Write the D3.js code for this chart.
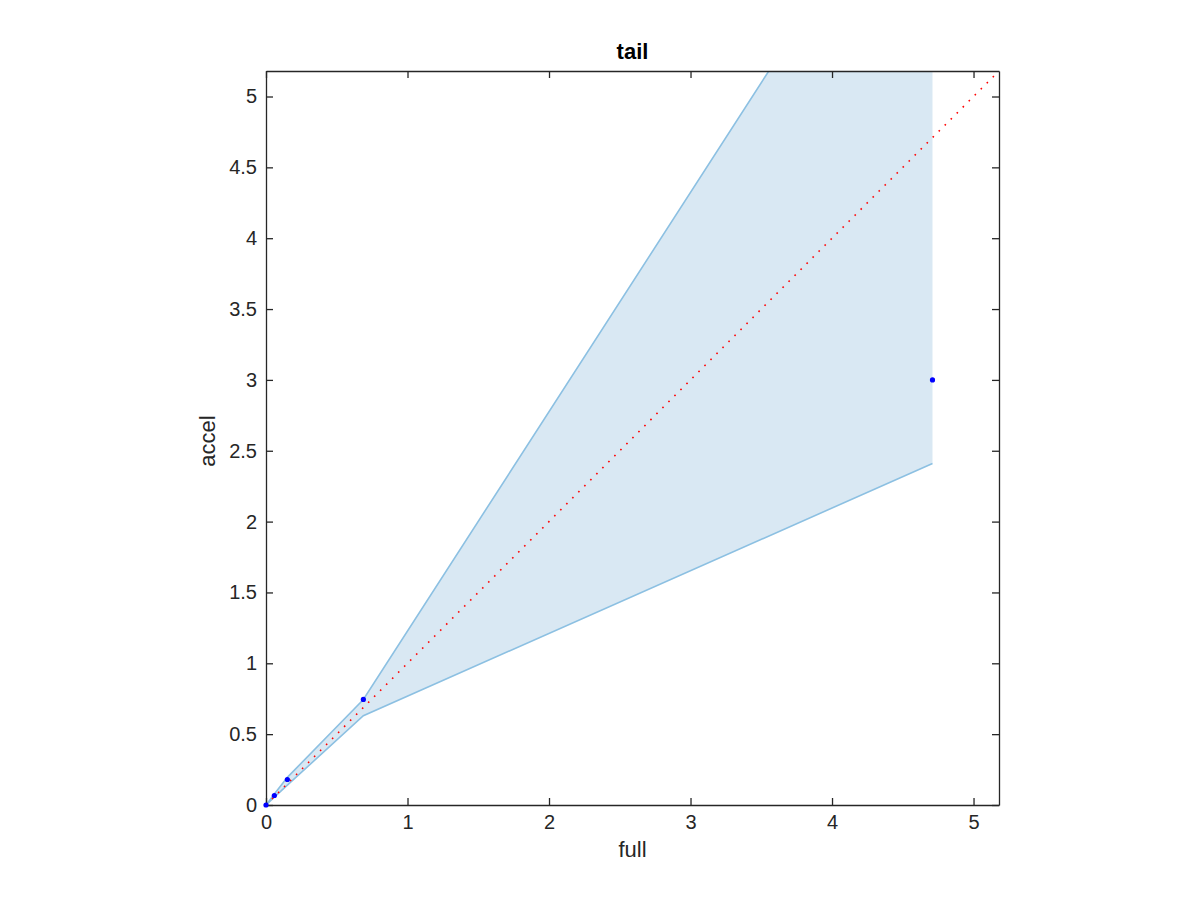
<!DOCTYPE html>
<html>
<head>
<meta charset="utf-8">
<script src="https://cdn.jsdelivr.net/npm/d3@7"></script>
<style>
body { margin: 0; background: #fff; }
svg { display: block; font-family: "Liberation Sans", Arial, Helvetica, sans-serif; }
</style>
</head>
<body>
<svg id="chart" width="1200" height="900"></svg>
<script>
// Data
const pointsX = [0, 0.059, 0.151, 0.688, 4.71];
const pointsY = [0, 0.067, 0.18, 0.745, 3.0];
const bandX = [0, 0.059, 0.151, 0.688, 4.71];
const bandUpper = [0, 0.078, 0.195, 0.745, 6.97];
const bandLower = [0, 0.055, 0.14, 0.63, 2.41];
const xTicks = [0, 1, 2, 3, 4, 5];
const yTicks = [0, 0.5, 1, 1.5, 2, 2.5, 3, 3.5, 4, 4.5, 5];
const axisMax = 5.18;
const titleText = "tail";
const xLabelText = "full";
const yLabelText = "accel";

(function () {
const svg = d3.select("#chart");
const mLeft = 266, mRight = 999, mTop = 71, mBottom = 805;
const x = d3.scaleLinear().domain([0, axisMax]).range([mLeft, mRight]);
const y = d3.scaleLinear().domain([0, axisMax]).range([mBottom, mTop]);

svg.append("defs").append("clipPath").attr("id", "clip")
  .append("rect").attr("x", mLeft).attr("y", mTop).attr("width", mRight - mLeft).attr("height", mBottom - mTop);

const plot = svg.append("g").attr("clip-path", "url(#clip)");

const bandData = bandX.map((d, i) => ({ x: d, lo: bandLower[i], hi: bandUpper[i] }));
const area = d3.area().x(d => x(d.x)).y0(d => y(d.lo)).y1(d => y(d.hi));
plot.append("path").datum(bandData).attr("d", area)
  .attr("fill", "#d9e8f3").attr("stroke", "none");
const lineHi = d3.line().x(d => x(d.x)).y(d => y(d.hi));
const lineLo = d3.line().x(d => x(d.x)).y(d => y(d.lo));
plot.append("path").datum(bandData).attr("d", lineHi).attr("fill", "none").attr("stroke", "#8cc0e2").attr("stroke-width", 1.6);
plot.append("path").datum(bandData).attr("d", lineLo).attr("fill", "none").attr("stroke", "#8cc0e2").attr("stroke-width", 1.6);

// diagonal
plot.append("line")
  .attr("x1", x(0)).attr("y1", y(0)).attr("x2", x(axisMax)).attr("y2", y(axisMax))
  .attr("stroke", "#ff0000").attr("stroke-width", 1.6).attr("stroke-dasharray", "1.6,6.9");

// axes
const axisColor = "#262626";
const tickLen = 7;
const xAxisB = d3.axisBottom(x).tickValues(xTicks).tickSizeInner(-tickLen).tickSizeOuter(0).tickPadding(10).tickFormat(d3.format("~g"));
const xAxisT = d3.axisTop(x).tickValues(xTicks).tickSizeInner(-tickLen).tickSizeOuter(0).tickFormat("");
const yAxisL = d3.axisLeft(y).tickValues(yTicks).tickSizeInner(-tickLen).tickSizeOuter(0).tickPadding(9).tickFormat(d3.format("~g"));
const yAxisR = d3.axisRight(y).tickValues(yTicks).tickSizeInner(-tickLen).tickSizeOuter(0).tickFormat("");

function style(g) {
  g.select(".domain").attr("stroke", axisColor).attr("stroke-width", 1.3);
  g.selectAll(".tick line").attr("stroke", axisColor).attr("stroke-width", 1.3);
  g.selectAll(".tick text").attr("fill", axisColor).attr("font-size", 20).attr("font-family", "Liberation Sans, Arial, sans-serif");
}
svg.append("g").attr("transform", `translate(0,${mBottom})`).call(xAxisB).call(style);
svg.append("g").attr("transform", `translate(0,${mTop})`).call(xAxisT).call(style);
svg.append("g").attr("transform", `translate(${mLeft},0)`).call(yAxisL).call(style);
svg.append("g").attr("transform", `translate(${mRight},0)`).call(yAxisR).call(style);

// points (unclipped, drawn on top)
svg.selectAll("circle.pt").data(pointsX.map((d, i) => [d, pointsY[i]])).enter()
  .append("circle").attr("class", "pt")
  .attr("cx", d => x(d[0])).attr("cy", d => y(d[1])).attr("r", 2.6).attr("fill", "#0000ff");

// labels
svg.append("text").attr("x", (mLeft + mRight) / 2).attr("y", 59).attr("text-anchor", "middle")
  .attr("font-size", 22).attr("font-weight", "bold").attr("fill", "#000").text(titleText);
svg.append("text").attr("x", (mLeft + mRight) / 2).attr("y", 857).attr("text-anchor", "middle")
  .attr("font-size", 22).attr("fill", axisColor).text(xLabelText);
svg.append("text").attr("transform", `translate(215,${(mTop + mBottom) / 2 + 3}) rotate(-90)`).attr("text-anchor", "middle")
  .attr("font-size", 22).attr("fill", axisColor).text(yLabelText);
})();
</script>
</body>
</html>
